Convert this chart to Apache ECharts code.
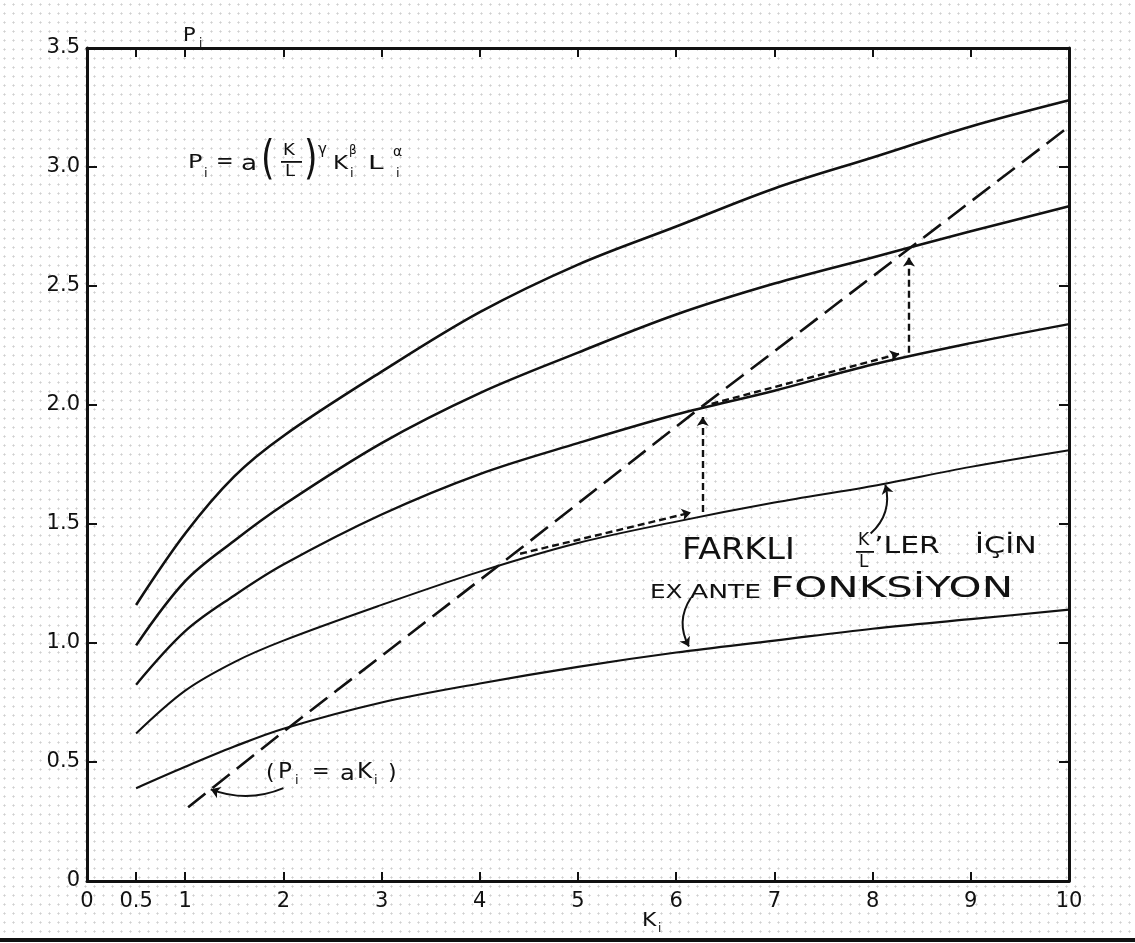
<!DOCTYPE html>
<html>
<head>
<meta charset="utf-8">
<script src="https://cdn.jsdelivr.net/npm/echarts@6/dist/echarts.min.js"></script>
<style>
html,body{margin:0;padding:0;background:#fff;}
#c{width:1135px;height:943px;background-color:#fff;
background-image:radial-gradient(circle,#cfcfcf 0.9px,transparent 1.2px);background-size:9px 9px;}
</style>
</head>
<body>
<div id="c"></div>
<script>
// ---- data ----
const kValues = [0.5, 1, 1.5, 2, 3, 4, 5, 6, 7, 8, 9, 10];
const curveA = [1.16, 1.46, 1.70, 1.87, 2.14, 2.39, 2.59, 2.75, 2.91, 3.04, 3.17, 3.28];
const curveB = [0.99, 1.26, 1.43, 1.58, 1.84, 2.05, 2.22, 2.38, 2.51, 2.62, 2.73, 2.835];
const curveC = [0.825, 1.05, 1.20, 1.33, 1.54, 1.71, 1.84, 1.96, 2.06, 2.17, 2.26, 2.34];
const curveD = [0.62, 0.80, 0.92, 1.01, 1.16, 1.30, 1.42, 1.51, 1.59, 1.66, 1.74, 1.81];
const curveE = [0.39, 0.48, 0.565, 0.64, 0.75, 0.83, 0.90, 0.96, 1.01, 1.06, 1.10, 1.14];
const lineK = [1.03, 2.04, 4.3, 6.25, 8.35, 10];
const lineP = [0.31, 0.64, 1.36, 1.99, 2.65, 3.17];
const xTickLabels = [0, 0.5, 1, 2, 3, 4, 5, 6, 7, 8, 9, 10];
const xTicks = [0.5, 1, 2, 3, 4, 5, 6, 7, 8, 9];
// dashed adjustment arrows: [fromK, fromP, toK, toP]
const stepArrows = [
  [4.41, 1.375, 6.15, 1.548],
  [6.27, 1.55, 6.27, 1.95],
  [6.36, 2.005, 8.27, 2.215],
  [8.37, 2.22, 8.37, 2.62]
];
// label pointer arrows: [fromK, fromP, toK, toP, curveness]
const pointerArrows = [
  [2.0, 0.39, 1.26, 0.385, 0.2],
  [7.98, 1.46, 8.13, 1.665, -0.3],
  [6.15, 1.19, 6.13, 0.985, -0.3]
];

const pair = (xs, ys) => xs.map((x, i) => [x, ys[i]]);
const ink = '#111';
const FONT = 'DejaVu Sans';

function curve(data, w) {
  return {
    type: 'line', data: pair(kValues, data), smooth: 0.35,
    symbol: 'none', lineStyle: { color: ink, width: w }, silent: true, z: 3
  };
}

const chart = echarts.init(document.getElementById('c'));

function txt(x, y, text, size, opt) {
  opt = opt || {};
  return {
    type: 'text', x: x, y: y, scaleX: opt.sx || 1, scaleY: opt.sy || 1,
    style: {
      text: text, fill: ink, font: (opt.w || 'normal') + ' ' + size + 'px "' + FONT + '"',
      textAlign: opt.align || 'left', textVerticalAlign: 'middle'
    }, z: 10
  };
}
function bar(x, y, w) {
  return { type: 'rect', shape: { x: x, y: y, width: w, height: 1.8 }, style: { fill: ink }, z: 10 };
}

const graphics = [
  // axis name P_i
  txt(183, 36, 'P', 19, { sx: 1.1 }), txt(199, 44, 'i', 12),
  // axis name K_i
  txt(642, 921, 'K', 20, { sx: 1.1 }), txt(658, 929, 'i', 12),
  // formula
  txt(188, 163, 'P', 20, { sx: 1.2 }), txt(204, 174, 'i', 13),
  txt(216, 163, '=', 21), txt(241, 165, 'a', 21, { sx: 1.25 }),
  txt(261, 161, '(', 46, { sx: 0.75 }),
  txt(283, 151, 'K', 15, { sx: 1.2 }), bar(281, 161, 21), txt(285, 172, 'L', 15, { sx: 1.2 }),
  txt(304, 161, ')', 46, { sx: 0.75 }),
  txt(318, 150, 'γ', 15),
  txt(333, 164, 'K', 20, { sx: 1.15 }), txt(349, 151, 'β', 12), txt(350, 174, 'i', 13),
  txt(368, 164, 'L', 20, { sx: 1.4 }), txt(393, 152, 'α', 14), txt(396, 174, 'i', 13),
  // (P_i = aK_i)
  txt(266, 773, '(', 22), txt(278, 773, 'P', 21, { sx: 1.1 }), txt(295, 781, 'i', 13),
  txt(312, 773, '=', 21), txt(340, 775, 'a', 21, { sx: 1.15 }), txt(357, 773, 'K', 21, { sx: 1.1 }),
  txt(374, 781, 'i', 13), txt(388, 773, ')', 22),
  // FARKLI K/L'LER İÇİN
  txt(682, 551, 'FARKLI', 31, { sx: 1.08 }),
  txt(858, 541, 'K', 17),
  bar(856, 551, 18),
  txt(859, 563, 'L', 17),
  txt(874, 547, '’LER', 23, { sx: 1.3 }),
  txt(975, 547, 'İÇİN', 23, { sx: 1.32 }),
  // EX ANTE FONKSİYON
  txt(650, 593, 'EX', 19, { sx: 1.3 }),
  txt(690, 593, 'ANTE', 19, { sx: 1.4 }),
  txt(770, 590, 'FONKSİYON', 28, { sx: 1.5 }),
  // bottom border of the scan
  { type: 'rect', shape: { x: 0, y: 938, width: 1135, height: 4 }, style: { fill: ink }, z: 10 }
];

const option = {
  animation: false,
  backgroundColor: 'transparent',
  grid: { left: 87, right: 66, top: 48, bottom: 62, containLabel: false },
  xAxis: [
    {
      type: 'value', min: 0, max: 10, position: 'bottom',
      axisLine: { show: true, onZero: false, lineStyle: { color: ink, width: 3 } },
      axisTick: { show: true, inside: true, length: 9, customValues: xTicks, lineStyle: { color: ink, width: 2 } },
      axisLabel: {
        customValues: xTickLabels, color: ink, fontSize: 21, fontFamily: FONT, margin: 10,
        formatter: v => String(v)
      },
      splitLine: { show: false }
    },
    {
      type: 'value', min: 0, max: 10, position: 'top',
      axisLine: { show: true, onZero: false, lineStyle: { color: ink, width: 3 } },
      axisTick: { show: true, inside: true, length: 9, customValues: xTicks, lineStyle: { color: ink, width: 2 } },
      axisLabel: { show: false },
      splitLine: { show: false }
    }
  ],
  yAxis: [
    {
      type: 'value', min: 0, max: 3.5, interval: 0.5, position: 'left',
      axisLine: { show: true, onZero: false, lineStyle: { color: ink, width: 3 } },
      axisTick: { show: true, inside: true, length: 10, lineStyle: { color: ink, width: 2 } },
      axisLabel: {
        color: ink, fontSize: 21, fontFamily: FONT, margin: 7,
        formatter: v => (v === 0 ? '0' : v.toFixed(1))
      },
      splitLine: { show: false }
    },
    {
      type: 'value', min: 0, max: 3.5, interval: 0.5, position: 'right',
      axisLine: { show: true, onZero: false, lineStyle: { color: ink, width: 3 } },
      axisTick: { show: true, inside: true, length: 10, lineStyle: { color: ink, width: 2 } },
      axisLabel: { show: false },
      splitLine: { show: false }
    }
  ],
  series: [
    curve(curveA, 2.6),
    curve(curveB, 2.6),
    curve(curveC, 2.4),
    curve(curveD, 2.0),
    curve(curveE, 2.2),
    {
      type: 'line', data: pair(lineK, lineP), symbol: 'none', silent: true, z: 4,
      lineStyle: { color: ink, width: 2.6, type: [22, 9] }
    },
    {
      type: 'lines', coordinateSystem: 'cartesian2d', silent: true, z: 5,
      symbol: ['none', 'arrow'], symbolSize: 9,
      lineStyle: { color: ink, width: 2.4, type: [7, 4], opacity: 1 },
      data: stepArrows.map(a => ({ coords: [[a[0], a[1]], [a[2], a[3]]] }))
    },
    {
      type: 'lines', coordinateSystem: 'cartesian2d', silent: true, z: 5,
      symbol: ['none', 'arrow'], symbolSize: 9,
      lineStyle: { color: ink, width: 2, opacity: 1 },
      data: pointerArrows.map(a => ({ coords: [[a[0], a[1]], [a[2], a[3]]], lineStyle: { curveness: a[4] } }))
    }
  ],
  graphic: graphics
};
chart.setOption(option);
</script>
</body>
</html>
